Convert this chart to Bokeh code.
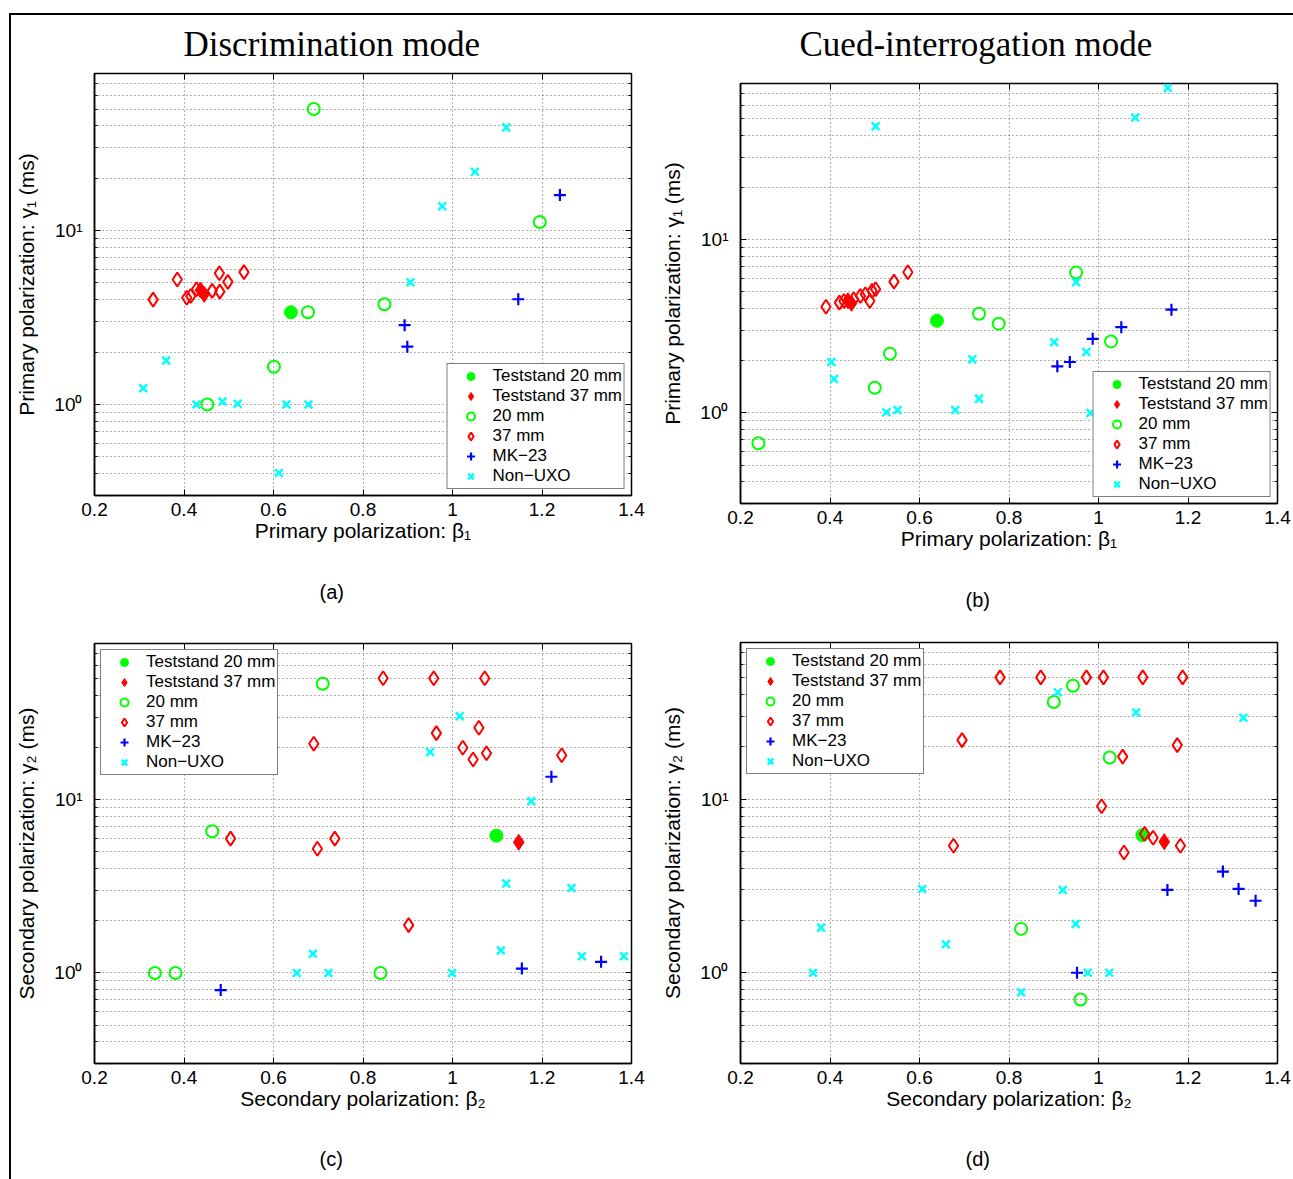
from bokeh.plotting import figure
from bokeh.models import (Range1d, LinearAxis, LogAxis, FixedTicker, CustomJSTickFormatter,
                          Title, Legend, LegendItem)
from bokeh.layouts import column, row
from bokeh.embed import file_html
from bokeh.resources import INLINE

# ---------------- data (beta, gamma) ----------------
x_tick_values = [0.2, 0.4, 0.6, 0.8, 1.0, 1.2, 1.4]
y_tick_values = [1, 10]
y_minor_values = [0.3, 0.4, 0.5, 0.6, 0.7, 0.8, 0.9, 2, 3, 4, 5, 6, 7, 8, 9, 20, 30, 40, 50, 60, 70, 80]

series_labels = ["Teststand 20 mm", "Teststand 37 mm", "20 mm", "37 mm", "MK\u221223", "Non\u2212UXO"]

# (a) Discrimination mode, primary polarization
a_ts20_b = [0.639]
a_ts20_g = [3.39]
a_ts37_b = [0.437, 0.445]
a_ts37_g = [4.55, 4.30]
a_20_b = [0.452, 0.601, 0.677, 0.690, 0.848, 1.195]
a_20_g = [1.00, 1.65, 3.39, 50.0, 3.77, 11.2]
a_37_b = [0.331, 0.385, 0.406, 0.415, 0.428, 0.463, 0.479, 0.480, 0.498, 0.534]
a_37_g = [4.01, 5.23, 4.11, 4.21, 4.60, 4.50, 5.69, 4.46, 5.07, 5.77]
a_mk_b = [0.893, 0.899, 1.147, 1.240]
a_mk_g = [2.86, 2.15, 4.03, 16.0]
a_nu_b = [0.309, 0.360, 0.428, 0.486, 0.520, 0.612, 0.629, 0.678, 0.906, 0.977, 1.050, 1.120]
a_nu_g = [1.24, 1.79, 1.00, 1.04, 1.01, 0.404, 1.00, 1.00, 5.05, 13.8, 21.8, 39.2]

# (b) Cued-interrogation mode, primary polarization
b_ts20_b = [0.639]
b_ts20_g = [3.41]
b_ts37_b = [0.440, 0.448]
b_ts37_g = [4.45, 4.30]
b_20_b = [0.240, 0.500, 0.534, 0.733, 0.777, 0.950, 1.028]
b_20_g = [0.668, 1.40, 2.20, 3.74, 3.28, 6.47, 2.59]
b_37_b = [0.391, 0.421, 0.431, 0.453, 0.468, 0.479, 0.489, 0.494, 0.502, 0.543, 0.574]
b_37_g = [4.11, 4.34, 4.43, 4.54, 4.74, 4.85, 4.43, 5.07, 5.18, 5.74, 6.50]
b_mk_b = [0.908, 0.936, 0.987, 1.051, 1.163]
b_mk_g = [1.86, 1.97, 2.68, 3.13, 3.95]
b_nu_b = [0.403, 0.409, 0.502, 0.526, 0.551, 0.680, 0.718, 0.733, 0.901, 0.950, 0.973, 0.982, 1.082, 1.155]
b_nu_g = [1.97, 1.57, 45.3, 1.01, 1.04, 1.04, 2.04, 1.21, 2.56, 5.69, 2.25, 1.00, 50.9, 75.5]

# (c) Discrimination mode, secondary polarization
c_ts20_b = [1.098]
c_ts20_g = [6.21]
c_ts37_b = [1.148]
c_ts37_g = [5.69]
c_20_b = [0.335, 0.381, 0.463, 0.710, 0.839]
c_20_g = [1.00, 1.00, 6.59, 46.8, 1.00]
c_37_b = [0.504, 0.690, 0.698, 0.737, 0.845, 0.902, 0.958, 0.964, 1.023, 1.046, 1.059, 1.072, 1.076, 1.244]
c_37_g = [5.97, 21.1, 5.22, 5.97, 50.4, 1.89, 50.4, 24.3, 20.0, 17.1, 26.1, 50.4, 18.6, 18.1]
c_mk_b = [0.482, 1.155, 1.221, 1.332]
c_mk_g = [0.797, 1.06, 13.6, 1.16]
c_nu_b = [0.652, 0.688, 0.723, 0.950, 0.999, 1.016, 1.108, 1.120, 1.176, 1.266, 1.289, 1.383]
c_nu_g = [1.00, 1.29, 1.00, 18.9, 1.00, 30.4, 1.35, 3.29, 9.83, 3.10, 1.25, 1.25]

# (d) Cued-interrogation mode, secondary polarization
d_ts20_b = [1.098]
d_ts20_g = [6.21]
d_ts37_b = [1.147]
d_ts37_g = [5.69]
d_20_b = [0.827, 0.900, 0.943, 0.960, 1.025]
d_20_g = [1.79, 36.3, 45.1, 0.701, 17.4]
d_37_b = [0.676, 0.695, 0.780, 0.871, 0.973, 1.007, 1.011, 1.054, 1.057, 1.099, 1.103, 1.122, 1.176, 1.183, 1.188]
d_37_g = [5.39, 21.9, 50.4, 50.4, 50.4, 9.11, 50.4, 17.6, 4.93, 50.4, 6.33, 6.00, 20.5, 5.39, 50.4]
d_mk_b = [0.952, 1.154, 1.278, 1.313, 1.351]
d_mk_g = [1.00, 3.00, 3.83, 3.04, 2.60]
d_nu_b = [0.362, 0.380, 0.606, 0.659, 0.827, 0.909, 0.920, 0.949, 0.976, 1.024, 1.084, 1.324]
d_nu_g = [1.00, 1.82, 3.04, 1.46, 0.773, 41.3, 3.00, 1.91, 1.00, 1.00, 31.6, 29.5]

# ---------------- styling ----------------
GREEN, RED, BLUE, CYAN = "#00ff00", "#ff0000", "#0000ff", "#00ffff"
FONT = "Liberation Sans"
SERIF = "Liberation Serif"
GRID_COLOR = "#3a3a3a"

xfmt = "return (Math.round(tick*10)/10).toString();"
yfmt = """
const e = Math.round(Math.log10(tick));
const sup = {'0':'\\u2070','1':'\\u00b9','2':'\\u00b2','3':'\\u00b3','-':'\\u207b'};
return '10' + String(e).split('').map(c => sup[c]).join('');
"""
empty_fmt = "return '';"


def spacer_axis(gap):
    # invisible axis whose only extent is an (invisible) outward tick of length `gap`
    return LinearAxis(ticker=FixedTicker(ticks=[0.2]), formatter=CustomJSTickFormatter(code=empty_fmt),
                      major_tick_in=0, major_tick_out=gap, major_tick_line_color=None,
                      minor_tick_line_color=None, axis_line_color=None,
                      major_label_standoff=0, major_label_text_font_size="0px")


def make_panel(w, h, bl, br, bt, bb, xlabel, ylabel, data, legend_loc,
               caption, cap_offset, bottom_gap, top_gap, title=None, title_offset=0):
    p = figure(width=w, height=h, x_range=Range1d(0.2, 1.4), y_range=Range1d(0.3, 80),
               y_axis_type="log", output_backend="svg", toolbar_location=None,
               min_border_left=bl, min_border_right=br, min_border_top=bt, min_border_bottom=bb)
    p.background_fill_color = "white"
    p.border_fill_color = "white"
    p.outline_line_color = "black"
    p.outline_line_width = 1.5

    xa = p.xaxis[0]
    xa.ticker = FixedTicker(ticks=x_tick_values)
    xa.formatter = CustomJSTickFormatter(code=xfmt)
    xa.axis_label = xlabel
    ya = p.yaxis[0]
    ya.ticker = FixedTicker(ticks=y_tick_values, minor_ticks=y_minor_values)
    ya.formatter = CustomJSTickFormatter(code=yfmt)
    ya.axis_label = ylabel

    for ax in (xa, ya):
        ax.axis_line_color = "black"
        ax.axis_line_width = 1.5
        ax.major_tick_in = 6
        ax.major_tick_out = 0
        ax.minor_tick_in = 3
        ax.minor_tick_out = 0
        ax.major_tick_line_color = "black"
        ax.minor_tick_line_color = "black"
        ax.major_label_text_font = FONT
        ax.major_label_text_font_size = "19px"
        ax.major_label_text_color = "black"
        ax.axis_label_text_font = FONT
        ax.axis_label_text_font_size = "21px"
        ax.axis_label_text_font_style = "normal"
        ax.axis_label_text_color = "black"
    xa.minor_tick_line_color = None
    xa.major_label_standoff = 7
    xa.axis_label_standoff = 0
    ya.major_label_standoff = 12
    ya.axis_label_standoff = 13

    # box ticks on top and right (no labels)
    top = LinearAxis(ticker=FixedTicker(ticks=x_tick_values), formatter=CustomJSTickFormatter(code=empty_fmt),
                     major_tick_in=6, major_tick_out=0, minor_tick_line_color=None,
                     major_label_standoff=0, major_label_text_font_size="0px", axis_line_color=None)
    right = LogAxis(ticker=FixedTicker(ticks=y_tick_values, minor_ticks=y_minor_values),
                    formatter=CustomJSTickFormatter(code=empty_fmt),
                    major_tick_in=6, major_tick_out=0, minor_tick_in=3, minor_tick_out=0,
                    major_label_standoff=0, major_label_text_font_size="0px", axis_line_color=None)
    p.add_layout(top, "above")
    p.add_layout(right, "right")
    if top_gap:
        p.add_layout(spacer_axis(top_gap), "above")
    p.add_layout(spacer_axis(bottom_gap), "below")

    p.xgrid.grid_line_color = GRID_COLOR
    p.xgrid.grid_line_dash = "1 3"
    p.xgrid.grid_line_alpha = 0.8
    p.ygrid.grid_line_color = GRID_COLOR
    p.ygrid.grid_line_dash = "1 3"
    p.ygrid.grid_line_alpha = 0.8
    p.ygrid.minor_grid_line_color = GRID_COLOR
    p.ygrid.minor_grid_line_dash = "1 3"
    p.ygrid.minor_grid_line_alpha = 0.8

    (ts20b, ts20g), (ts37b, ts37g), (s20b, s20g), (s37b, s37g), (mkb, mkg), (nub, nug) = data
    r1 = p.scatter(ts20b, ts20g, marker="circle", size=13, fill_color=GREEN, line_color=GREEN)
    r2 = p.scatter(ts37b, ts37g, marker="diamond", size=16, fill_color=RED, line_color=RED)
    r3 = p.scatter(s20b, s20g, marker="circle", size=12, fill_color=None, line_color=GREEN, line_width=2)
    r4 = p.scatter(s37b, s37g, marker="diamond", size=14, fill_color=None, line_color=RED, line_width=2)
    r5 = p.scatter(mkb, mkg, marker="cross", size=12, line_color=BLUE, line_width=2.2)
    r6 = p.scatter(nub, nug, marker="x", size=11, line_color=CYAN, line_width=2.5)

    items = [LegendItem(label=lab, renderers=[r]) for lab, r in zip(series_labels, [r1, r2, r3, r4, r5, r6])]
    legend = Legend(items=items, location=legend_loc, margin=6, padding=2, spacing=0,
                    glyph_width=42, glyph_height=20, label_height=20, label_standoff=1,
                    label_text_font=FONT, label_text_font_size="17px", label_text_color="black",
                    border_line_color="black", border_line_width=1.2,
                    background_fill_color="white", background_fill_alpha=1.0)
    p.add_layout(legend)

    p.add_layout(Title(text=caption, align="left", offset=cap_offset, text_font=FONT,
                       text_font_size="20px", text_font_style="normal", text_color="black",
                       standoff=10), "below")
    if title:
        p.add_layout(Title(text=title, align="left", offset=title_offset, text_font=SERIF,
                           text_font_size="35px", text_font_style="normal", text_color="black",
                           standoff=14), "above")
    return p


data_a = [(a_ts20_b, a_ts20_g), (a_ts37_b, a_ts37_g), (a_20_b, a_20_g), (a_37_b, a_37_g), (a_mk_b, a_mk_g), (a_nu_b, a_nu_g)]
data_b = [(b_ts20_b, b_ts20_g), (b_ts37_b, b_ts37_g), (b_20_b, b_20_g), (b_37_b, b_37_g), (b_mk_b, b_mk_g), (b_nu_b, b_nu_g)]
data_c = [(c_ts20_b, c_ts20_g), (c_ts37_b, c_ts37_g), (c_20_b, c_20_g), (c_37_b, c_37_g), (c_mk_b, c_mk_g), (c_nu_b, c_nu_g)]
data_d = [(d_ts20_b, d_ts20_g), (d_ts37_b, d_ts37_g), (d_20_b, d_20_g), (d_37_b, d_37_g), (d_mk_b, d_mk_g), (d_nu_b, d_nu_g)]

XL1 = "Primary polarization: \u03b2\u2081"
YL1 = "Primary polarization: \u03b3\u2081 (ms)"
XL2 = "Secondary polarization: \u03b2\u2082"
YL2 = "Secondary polarization: \u03b3\u2082 (ms)"

pa = make_panel(635, 605, 83, 15, 58, 125, XL1, YL1, data_a, "bottom_right", "(a)", 225, 29, 3,
                title="Discrimination mode", title_offset=89)
pb = make_panel(647, 605, 94, 16, 68, 117, XL1, YL1, data_b, "bottom_right", "(b)", 225, 29, 13,
                title="Cued-interrogation mode", title_offset=59)
pc = make_panel(635, 559, 83, 15, 23, 116, XL2, YL2, data_c, "top_left", "(c)", 225, 28, 0)
pd = make_panel(647, 559, 94, 16, 22, 116, XL2, YL2, data_d, "top_left", "(d)", 225, 28, 0)

layout = row(column(pa, pc), column(pb, pd), margin=(13, 0, 0, 9),
             styles={"border-top": "2px solid black", "border-left": "2px solid black"})

open("out.html", "w").write(file_html(layout, INLINE))
